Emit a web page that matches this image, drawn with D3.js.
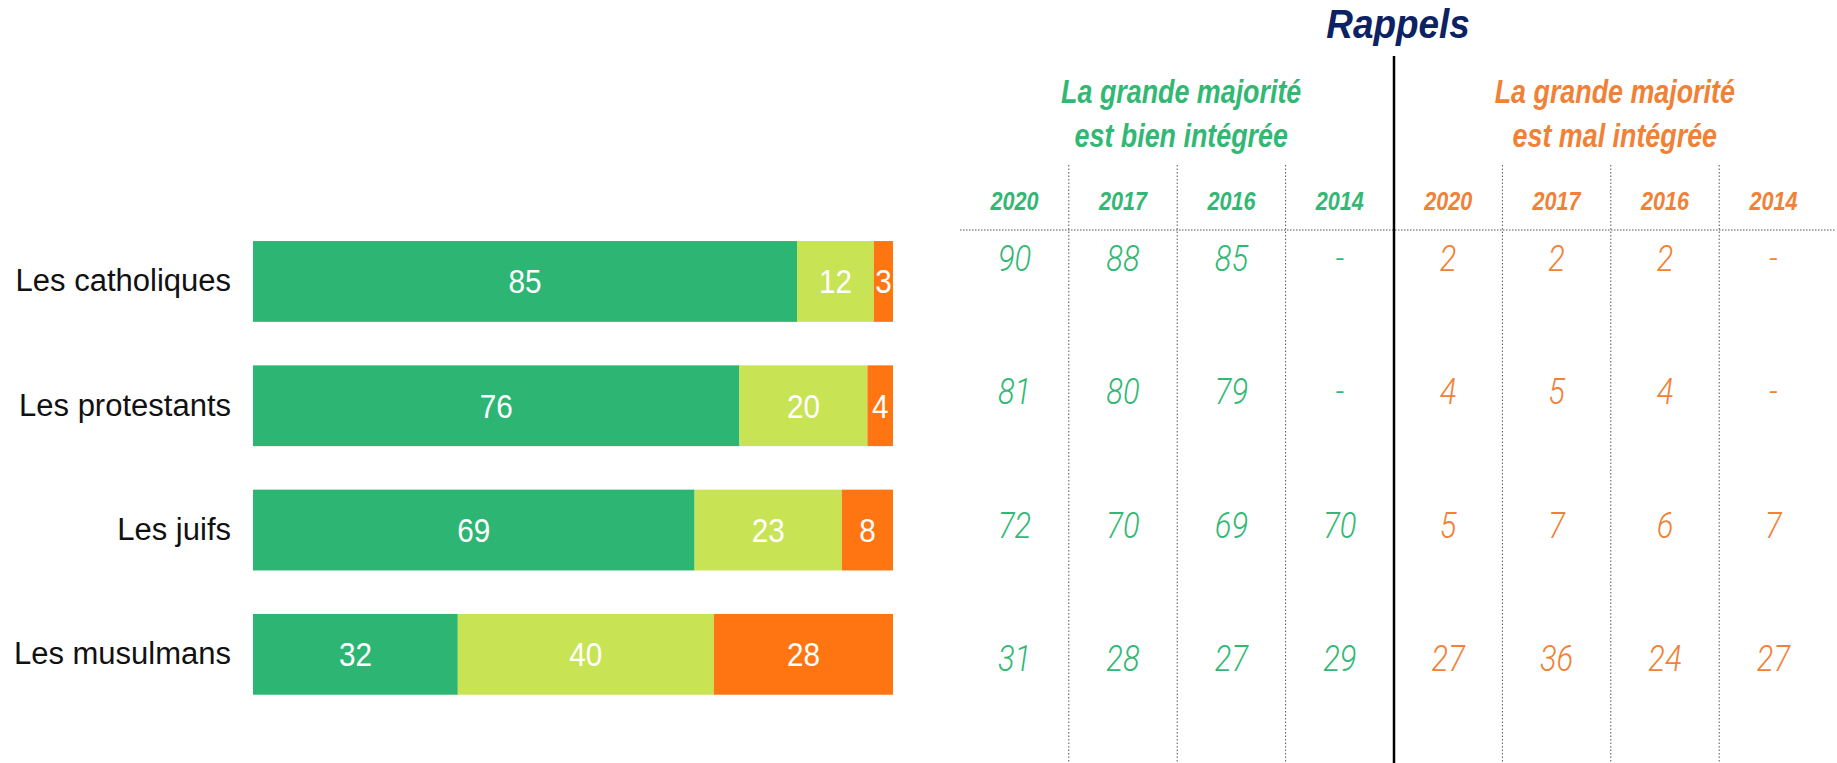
<!DOCTYPE html>
<html>
<head>
<meta charset="utf-8">
<script src="https://cdn.jsdelivr.net/npm/d3@7"></script>
<style>
  body { margin: 0; background: #fff; }
  svg { display: block; }
</style>
</head>
<body>
<svg id="svg"></svg>
<script>
  // données
  const categories = ["Les catholiques", "Les protestants", "Les juifs", "Les musulmans"];
  const bienIntegree = [85, 76, 69, 32];
  const entreDeux = [12, 20, 23, 40];
  const malIntegree = [3, 4, 8, 28];

  const rappelYears = ["2020", "2017", "2016", "2014"];
  // null = pas de mesure
  const rappelBien = [
    [90, 88, 85, null],
    [81, 80, 79, null],
    [72, 70, 69, 70],
    [31, 28, 27, 29]
  ];
  const rappelMal = [
    [2, 2, 2, null],
    [4, 5, 4, null],
    [5, 7, 6, 7],
    [27, 36, 24, 27]
  ];

  const width = 1837;
  const height = 763;

  const green = "#2db673";
  const lime = "#c8e354";
  const orange = "#ff7512";
  const greenText = "#32b874";
  const orangeText = "#f08136";
  const navy = "#0c2263";

  const svg = d3.select("#svg")
      .attr("width", width)
      .attr("height", height);

  // ---- barres empilées ----
  const xScale = d3.scaleLinear()
      .domain([0, 100])
      .range([253, 893]);

  const yScale = d3.scaleBand()
      .domain(categories)
      .range([219.3, 716.5])
      .paddingInner(0.35)
      .paddingOuter(0.175);

  const rows = categories.map(function(c, i) {
    return {cat: c, bien: bienIntegree[i], entre: entreDeux[i], mal: malIntegree[i]};
  });

  const stack = d3.stack().keys(["bien", "entre", "mal"]);
  const series = stack(rows);
  const colors = {bien: green, entre: lime, mal: orange};

  const bars = svg.append("g");

  series.forEach(function(s) {
    const g = bars.append("g").attr("fill", colors[s.key]);
    g.selectAll("rect")
      .data(s)
      .enter().append("rect")
      .attr("x", function(d) { return xScale(d[0]); })
      .attr("y", function(d) { return yScale(d.data.cat); })
      .attr("width", function(d) { return xScale(d[1]) - xScale(d[0]); })
      .attr("height", yScale.bandwidth());

    g.selectAll("text")
      .data(s)
      .enter().append("text")
      .attr("transform", function(d) {
        return "translate(" + (xScale(d[0]) + xScale(d[1])) / 2 + "," + (yScale(d.data.cat) + yScale.bandwidth() / 2 + 12) + ") scale(0.9,1)";
      })
      .attr("text-anchor", "middle")
      .attr("fill", "#fff")
      .style("font-family", "'Liberation Sans', Arial, sans-serif")
      .style("font-size", "33px")
      .text(function(d) { return d.data[s.key]; });
  });

  svg.append("g")
    .selectAll("text")
    .data(categories)
    .enter().append("text")
    .attr("x", 231)
    .attr("y", function(d) { return yScale(d) + yScale.bandwidth() / 2 + 10; })
    .attr("text-anchor", "end")
    .attr("fill", "#111")
    .style("font-family", "'Liberation Sans', Arial, sans-serif")
    .style("font-size", "31px")
    .text(function(d) { return d; });

  // ---- tableau "Rappels" ----
  const colKeys = d3.range(8);
  const colScale = d3.scaleBand()
      .domain(colKeys)
      .range([960.4, 1827.6]);
  const colX = function(j) { return colScale(j) + colScale.bandwidth() / 2; };
  const divider = colScale(4);

  const rowScale = d3.scalePoint()
      .domain(categories)
      .range([271, 671]);

  const table = svg.append("g");

  // lignes pointillées
  table.selectAll(".vdot")
    .data([1, 2, 3, 5, 6, 7])
    .enter().append("line")
    .attr("x1", function(j) { return colScale(j); })
    .attr("x2", function(j) { return colScale(j); })
    .attr("y1", 165)
    .attr("y2", height)
    .attr("stroke", "#555")
    .attr("stroke-width", 1)
    .attr("stroke-dasharray", "1.5,2");

  table.append("line")
    .attr("x1", 960)
    .attr("x2", 1836)
    .attr("y1", 230)
    .attr("y2", 230)
    .attr("stroke", "#555")
    .attr("stroke-width", 1)
    .attr("stroke-dasharray", "1.5,1.5");

  table.append("line")
    .attr("x1", divider)
    .attr("x2", divider)
    .attr("y1", 56)
    .attr("y2", height)
    .attr("stroke", "#000")
    .attr("stroke-width", 2.5);

  table.append("text")
    .attr("transform", "translate(" + (divider + 4) + ",38) scale(0.9,1)")
    .attr("text-anchor", "middle")
    .attr("fill", navy)
    .style("font-family", "'Liberation Sans', Arial, sans-serif")
    .style("font-size", "41px")
    .style("font-weight", "bold")
    .style("font-style", "italic")
    .text("Rappels");

  const headers = [
    {lines: ["La grande majorité", "est bien intégrée"], color: greenText, x: (colScale(0) + divider) / 2 + 4},
    {lines: ["La grande majorité", "est mal intégrée"], color: orangeText, x: (divider + colScale(7) + colScale.bandwidth()) / 2 + 4}
  ];

  headers.forEach(function(h) {
    h.lines.forEach(function(line, k) {
      table.append("text")
        .attr("transform", "translate(" + h.x + "," + (103 + k * 44) + ") scale(0.79,1)")
        .attr("text-anchor", "middle")
        .attr("fill", h.color)
        .style("font-family", "'Liberation Sans', Arial, sans-serif")
        .style("font-size", "34px")
        .style("font-weight", "bold")
        .style("font-style", "italic")
        .text(line);
    });
  });

  // années
  table.selectAll(".year")
    .data(colKeys)
    .enter().append("text")
    .attr("transform", function(j) { return "translate(" + colX(j) + ",210) scale(0.83,1)"; })
    .attr("text-anchor", "middle")
    .attr("fill", function(j) { return j < 4 ? greenText : orangeText; })
    .style("font-family", "'Liberation Sans', Arial, sans-serif")
    .style("font-size", "26px")
    .style("font-weight", "bold")
    .style("font-style", "italic")
    .text(function(j) { return rappelYears[j % 4]; });

  // valeurs
  categories.forEach(function(c, i) {
    const vals = rappelBien[i].concat(rappelMal[i]);
    table.selectAll(".val-" + i)
      .data(vals)
      .enter().append("text")
      .attr("transform", function(d, j) { return "translate(" + colX(j) + "," + rowScale(c) + ") scale(0.86,1)"; })
      .attr("text-anchor", "middle")
      .attr("fill", function(d, j) { return j < 4 ? greenText : orangeText; })
      .style("font-family", "Roboto, 'Liberation Sans', sans-serif")
      .style("font-size", "36px")
      .style("font-weight", "300")
      .style("font-style", "italic")
      .text(function(d) { return d == null ? "-" : d; });
  });
</script>
</body>
</html>
